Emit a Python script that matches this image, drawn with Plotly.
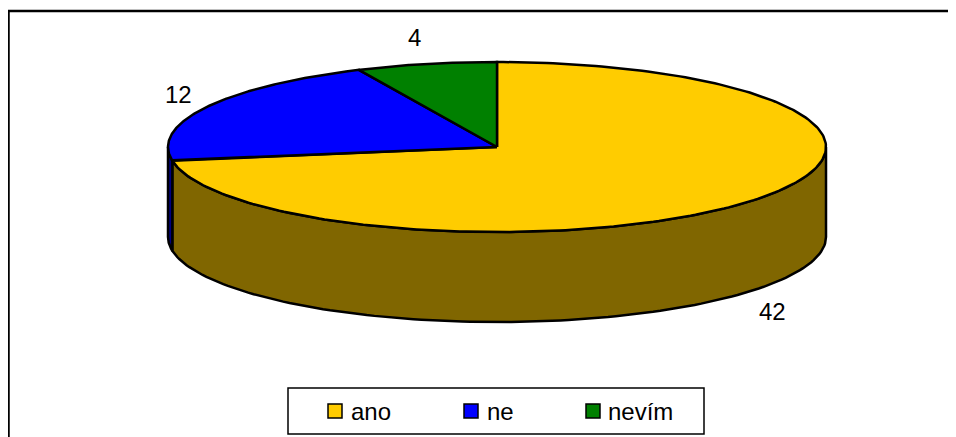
import numpy as np
import plotly.graph_objects as go

# Donnees du graphique
labels = ["ano", "ne", "nevím"]
values = [42, 12, 4]
colors_top = ["#FFCC00", "#0000FF", "#008000"]
colors_side = ["#806600", "#000080", "#004000"]

# Geometrie du camembert 3D (en pixels de la page)
W, H = 956, 437
PAGE_MARGIN = 8  # marge du body de la page html
CX, CY = 497, 147
RX, RY = 329, 85
DEPTH = 90
FONT_SIZE = 24
EDGE_WIDTH = 2.5


def ellipse(theta, dy=0):
    # angle compte depuis le haut, sens horaire
    return CX + RX * np.sin(theta), CY - RY * np.cos(theta) + dy


fractions = np.array(values) / sum(values)
edges = np.concatenate([[0], np.cumsum(fractions)]) * 2 * np.pi

fig = go.Figure()

# Flancs : seule la moitie avant (90 a 270 degres) est visible
for i in range(len(values)):
    start, end = max(edges[i], np.pi / 2), min(edges[i + 1], 3 * np.pi / 2)
    if end <= start:
        continue
    t = np.linspace(start, end, 120)
    x_top, y_top = ellipse(t)
    x_bot, y_bot = ellipse(t, DEPTH)
    fig.add_trace(go.Scatter(
        x=np.concatenate([x_top, x_bot[::-1], x_top[:1]]),
        y=np.concatenate([y_top, y_bot[::-1], y_top[:1]]),
        mode="lines", fill="toself", fillcolor=colors_side[i],
        line=dict(color="black", width=EDGE_WIDTH), showlegend=False, hoverinfo="skip",
    ))

# Dessus
for i in range(len(values)):
    t = np.linspace(edges[i], edges[i + 1], 240)
    x_arc, y_arc = ellipse(t)
    fig.add_trace(go.Scatter(
        x=np.concatenate([[CX], x_arc, [CX]]),
        y=np.concatenate([[CY], y_arc, [CY]]),
        mode="lines", fill="toself", fillcolor=colors_top[i],
        line=dict(color="black", width=EDGE_WIDTH), showlegend=False,
        name=labels[i], hoverinfo="name",
    ))

# Etiquettes de valeurs
label_x = [772, 178, 414]
label_y = [311, 94, 37]
for v, lx, ly in zip(values, label_x, label_y):
    fig.add_annotation(x=lx, y=ly, text=str(v), showarrow=False,
                       font=dict(size=FONT_SIZE, color="black"))

# Cadre du graphique (le bas et la droite sont coupes par la page)
fig.add_shape(type="rect", x0=8.5, y0=11, x1=W + 40, y1=H + 40, layer="below",
              line=dict(color="black", width=2.5))

# Legende faite a la main : les ecarts entre entrees ne sont pas reguliers
fig.add_shape(type="rect", x0=288, y0=388, x1=704, y1=434, layer="below",
              line=dict(color="black", width=1.5), fillcolor="white")
swatch_x = [335, 471, 593]
text_x = [348.5, 484.5, 605.5]
LEGEND_Y = 411
fig.add_trace(go.Scatter(
    x=swatch_x, y=[LEGEND_Y] * len(labels), mode="markers",
    marker=dict(symbol="square", size=14, color=colors_top,
                line=dict(color="black", width=1.5)),
    showlegend=False, hoverinfo="skip",
))
for lab, tx in zip(labels, text_x):
    fig.add_annotation(x=tx, y=LEGEND_Y, text=lab, showarrow=False, xanchor="left",
                       font=dict(size=FONT_SIZE, color="black"))

fig.update_layout(
    width=W, height=H,
    margin=dict(l=0, r=0, t=0, b=0),
    plot_bgcolor="white", paper_bgcolor="white",
    font=dict(family="Liberation Sans, Arial, sans-serif", size=FONT_SIZE, color="black"),
    xaxis=dict(range=[PAGE_MARGIN, W + PAGE_MARGIN], visible=False, fixedrange=True),
    yaxis=dict(range=[H + PAGE_MARGIN, PAGE_MARGIN], visible=False, fixedrange=True),
    showlegend=False,
)

fig.write_html("out.html")
